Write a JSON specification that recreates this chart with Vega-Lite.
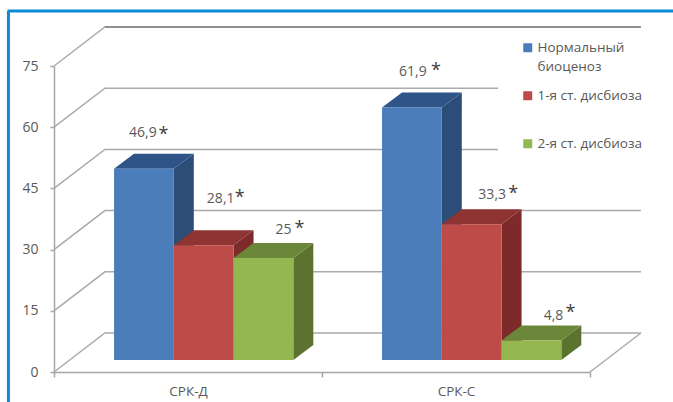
{
  "$schema": "https://vega.github.io/schema/vega-lite/v6.json",
  "width": 536,
  "height": 306,
  "autosize": "none",
  "padding": {"left": 54, "top": 66, "right": 83, "bottom": 30},
  "background": "white",
  "config": {"view": {"stroke": null}, "text": {"font": "Open Sans"}, "style": {"guide-label": {"lineHeight": 19}}},
  "params": [
    {"name": "barW", "value": 0.223},
    {"name": "barBase", "value": 2.94},
    {"name": "depthX", "value": 0.0746},
    {"name": "depthY", "value": 3.68},
    {"name": "wallX", "value": 0.19},
    {"name": "wallY", "value": 9.56}
  ],
  "datasets": {
    "bars": [
      {"group": "СРК-Д", "series": "Нормальный биоценоз", "value": 46.9},
      {"group": "СРК-Д", "series": "1-я ст. дисбиоза", "value": 28.1},
      {"group": "СРК-Д", "series": "2-я ст. дисбиоза", "value": 25},
      {"group": "СРК-С", "series": "Нормальный биоценоз", "value": 61.9},
      {"group": "СРК-С", "series": "1-я ст. дисбиоза", "value": 33.3},
      {"group": "СРК-С", "series": "2-я ст. дисбиоза", "value": 4.8}
    ],
    "ticks": [{"tick": 0}, {"tick": 15}, {"tick": 30}, {"tick": 45}, {"tick": 60}, {"tick": 75}]
  },
  "encoding": {
    "x": {
      "field": "x",
      "type": "quantitative",
      "scale": {"domain": [0, 2], "nice": false, "zero": false},
      "axis": {
        "title": null,
        "grid": false,
        "values": [0, 0.5, 1, 1.5, 2],
        "labelExpr": "datum.value==0.5?'СРК-Д':datum.value==1.5?'СРК-С':''",
        "labelOverlap": false,
        "labelFlush": false,
        "labelFont": "Open Sans",
        "labelFontSize": 13.5,
        "labelColor": "#595959",
        "labelPadding": 7,
        "tickSize": 5,
        "tickColor": "#a6a6a6",
        "tickWidth": 1.5,
        "tickOpacity": {"expr": "datum.value%1==0?1:0"},
        "domainColor": "#a6a6a6",
        "domainWidth": 1.5
      }
    },
    "y": {
      "field": "y",
      "type": "quantitative",
      "scale": {"domain": [0, 75], "nice": false},
      "axis": {
        "title": null,
        "grid": false,
        "values": [0, 15, 30, 45, 60, 75],
        "labelFont": "Open Sans",
        "labelFontSize": 14,
        "labelColor": "#595959",
        "labelPadding": 12,
        "tickSize": 4,
        "tickColor": "#a6a6a6",
        "tickWidth": 1.5,
        "domainColor": "#a6a6a6",
        "domainWidth": 1.5
      }
    }
  },
  "layer": [
    {
      "description": "Page frame along the top edge",
      "data": {"values": [{"edge": "top"}]},
      "transform": [
        {"calculate": "-0.1735", "as": "x"},
        {"calculate": "2.31", "as": "xe"},
        {"calculate": "88.5", "as": "y"}
      ],
      "mark": {"type": "rule", "color": "#0a8bd6", "strokeWidth": 3, "clip": false},
      "encoding": {"x2": {"field": "xe"}}
    },
    {
      "description": "Page frame along the left edge",
      "data": {"values": [{"edge": "left"}]},
      "transform": [
        {"calculate": "-0.17", "as": "x"},
        {"calculate": "-7.4", "as": "y"},
        {"calculate": "88.5", "as": "ye"}
      ],
      "mark": {"type": "rule", "color": "#0a8bd6", "strokeWidth": 3, "clip": false},
      "encoding": {"y2": {"field": "ye"}}
    },
    {
      "description": "Walls: each gridline runs up the side wall and across the back wall; the 45 and 60 lines stop short of the legend",
      "data": {"name": "ticks"},
      "transform": [
        {"calculate": "[0,1,2]", "as": "k"},
        {"flatten": ["k"]},
        {"calculate": "[0,wallX,(datum.tick==45||datum.tick==60)?1.657:2+wallX][datum.k]", "as": "x"},
        {"calculate": "datum.tick+(datum.k>0?wallY:0)", "as": "y"}
      ],
      "mark": {"type": "line", "color": "#ababab", "strokeWidth": 1.5, "clip": false},
      "encoding": {"detail": {"field": "tick"}}
    },
    {
      "description": "Darker top edge of the back wall",
      "data": {"name": "ticks"},
      "transform": [
        {"filter": "datum.tick==75"},
        {"calculate": "[0,1]", "as": "k"},
        {"flatten": ["k"]},
        {"calculate": "wallX+datum.k*2", "as": "x"},
        {"calculate": "datum.tick+wallY", "as": "y"}
      ],
      "mark": {"type": "line", "color": "#7f7f7f", "strokeWidth": 1.5, "clip": false},
      "encoding": {}
    },
    {
      "description": "Right edge of the floor",
      "data": {"name": "ticks"},
      "transform": [
        {"filter": "datum.tick==0"},
        {"calculate": "[0,1]", "as": "k"},
        {"flatten": ["k"]},
        {"calculate": "2+datum.k*wallX", "as": "x"},
        {"calculate": "datum.k*wallY", "as": "y"}
      ],
      "mark": {"type": "line", "color": "#ababab", "strokeWidth": 1.5, "clip": false},
      "encoding": {}
    },
    {
      "data": {"name": "bars"},
      "transform": [
        {"calculate": "datum.group=='СРК-Д'?0:1", "as": "gi"},
        {"calculate": "indexof(['Нормальный биоценоз','1-я ст. дисбиоза','2-я ст. дисбиоза'],datum.series)", "as": "si"},
        {"calculate": "datum.gi+0.224+datum.si*barW", "as": "left"},
        {"calculate": "datum.left+barW", "as": "right"},
        {"calculate": "barBase+datum.value", "as": "front"},
        {"calculate": "replace(toString(datum.value),'.',',')", "as": "valueText"}
      ],
      "resolve": {"scale": {"color": "independent"}},
      "layer": [
        {
          "description": "Right-hand faces of the bars",
          "transform": [
            {"calculate": "[0,1]", "as": "k"},
            {"flatten": ["k"]},
            {"calculate": "datum.right+datum.k*depthX", "as": "x"},
            {"calculate": "datum.front+datum.k*depthY", "as": "y"},
            {"calculate": "barBase+datum.k*depthY", "as": "yb"}
          ],
          "mark": {"type": "area", "orient": "vertical", "clip": false},
          "encoding": {
            "y2": {"field": "yb"},
            "detail": {"field": "left"},
            "color": {
              "field": "series",
              "type": "nominal",
              "legend": null,
              "scale": {
                "domain": ["Нормальный биоценоз", "1-я ст. дисбиоза", "2-я ст. дисбиоза"],
                "range": ["#2b4d78", "#7c2b2a", "#5c7330"]
              }
            }
          }
        },
        {
          "description": "Top faces of the bars",
          "transform": [
            {"calculate": "[0,1,2,3]", "as": "k"},
            {"flatten": ["k"]},
            {"calculate": "[datum.left,datum.left+depthX,datum.right,datum.right+depthX][datum.k]", "as": "x"},
            {"calculate": "datum.front+(datum.k>0?depthY:0)", "as": "y"},
            {"calculate": "datum.front+(datum.k==3?depthY:0)", "as": "yb"}
          ],
          "mark": {"type": "area", "orient": "vertical", "clip": false},
          "encoding": {
            "y2": {"field": "yb"},
            "detail": {"field": "left"},
            "color": {
              "field": "series",
              "type": "nominal",
              "legend": null,
              "scale": {
                "domain": ["Нормальный биоценоз", "1-я ст. дисбиоза", "2-я ст. дисбиоза"],
                "range": ["#2e5488", "#8e3432", "#6c873a"]
              }
            }
          }
        },
        {
          "description": "Front faces of the bars, which also carry the legend",
          "transform": [
            {"calculate": "datum.left", "as": "x"},
            {"calculate": "datum.front", "as": "y"},
            {"calculate": "barBase", "as": "yb"}
          ],
          "mark": {"type": "rect", "clip": false},
          "encoding": {
            "x2": {"field": "right"},
            "y2": {"field": "yb"},
            "color": {
              "field": "series",
              "type": "nominal",
              "scale": {
                "domain": ["Нормальный биоценоз", "1-я ст. дисбиоза", "2-я ст. дисбиоза"],
                "range": ["#4a7dba", "#bd4b48", "#95b751"]
              },
              "legend": {
                "title": null,
                "orient": "none",
                "legendX": 467,
                "legendY": -25,
                "symbolType": "square",
                "symbolSize": 81,
                "symbolStrokeWidth": 0,
                "labelFont": "Open Sans",
                "labelFontSize": 13.5,
                "labelColor": "#595959",
                "labelLimit": 200,
                "labelOffset": 3,
                "rowPadding": 14,
                "gridAlign": "all",
                "labelExpr": "datum.label=='Нормальный биоценоз'?['Нормальный','биоценоз']:datum.label"
              }
            }
          }
        },
        {
          "description": "Value labels with their significance stars, each set beside its own bar",
          "transform": [
            {"calculate": "datum.left+barW/2", "as": "x"},
            {"calculate": "datum.front", "as": "y"}
          ],
          "layer": [
            {
              "transform": [{"filter": "datum.gi==0&&datum.si==0"}],
              "layer": [
                {"mark": {"type": "text", "fontSize": 14, "color": "#595959", "dx": -1, "dy": -36, "clip": false}, "encoding": {"text": {"field": "valueText"}}},
                {"mark": {"type": "text", "fontSize": 18, "color": "#404040", "dx": 19.5, "dy": -34, "clip": false}, "encoding": {"text": {"value": "*"}}}
              ]
            },
            {
              "transform": [{"filter": "datum.gi==0&&datum.si==1"}],
              "layer": [
                {"mark": {"type": "text", "fontSize": 14, "color": "#595959", "dx": 17, "dy": -46, "clip": false}, "encoding": {"text": {"field": "valueText"}}},
                {"mark": {"type": "text", "fontSize": 18, "color": "#404040", "dx": 36, "dy": -47, "clip": false}, "encoding": {"text": {"value": "*"}}}
              ]
            },
            {
              "transform": [{"filter": "datum.gi==0&&datum.si==2"}],
              "layer": [
                {"mark": {"type": "text", "fontSize": 14, "color": "#595959", "dx": 20, "dy": -28, "clip": false}, "encoding": {"text": {"field": "valueText"}}},
                {"mark": {"type": "text", "fontSize": 18, "color": "#404040", "dx": 36, "dy": -29, "clip": false}, "encoding": {"text": {"value": "*"}}}
              ]
            },
            {
              "transform": [{"filter": "datum.gi==1&&datum.si==0"}],
              "layer": [
                {"mark": {"type": "text", "fontSize": 14, "color": "#595959", "dx": 1, "dy": -35, "clip": false}, "encoding": {"text": {"field": "valueText"}}},
                {"mark": {"type": "text", "fontSize": 18, "color": "#404040", "dx": 24, "dy": -36, "clip": false}, "encoding": {"text": {"value": "*"}}}
              ]
            },
            {
              "transform": [{"filter": "datum.gi==1&&datum.si==1"}],
              "layer": [
                {"mark": {"type": "text", "fontSize": 14, "color": "#595959", "dx": 20.5, "dy": -29, "clip": false}, "encoding": {"text": {"field": "valueText"}}},
                {"mark": {"type": "text", "fontSize": 18, "color": "#404040", "dx": 41.5, "dy": -30, "clip": false}, "encoding": {"text": {"value": "*"}}}
              ]
            },
            {
              "transform": [{"filter": "datum.gi==1&&datum.si==2"}],
              "layer": [
                {"mark": {"type": "text", "fontSize": 14, "color": "#595959", "dx": 22, "dy": -24, "clip": false}, "encoding": {"text": {"field": "valueText"}}},
                {"mark": {"type": "text", "fontSize": 18, "color": "#404040", "dx": 39, "dy": -27, "clip": false}, "encoding": {"text": {"value": "*"}}}
              ]
            }
          ]
        }
      ]
    }
  ]
}
